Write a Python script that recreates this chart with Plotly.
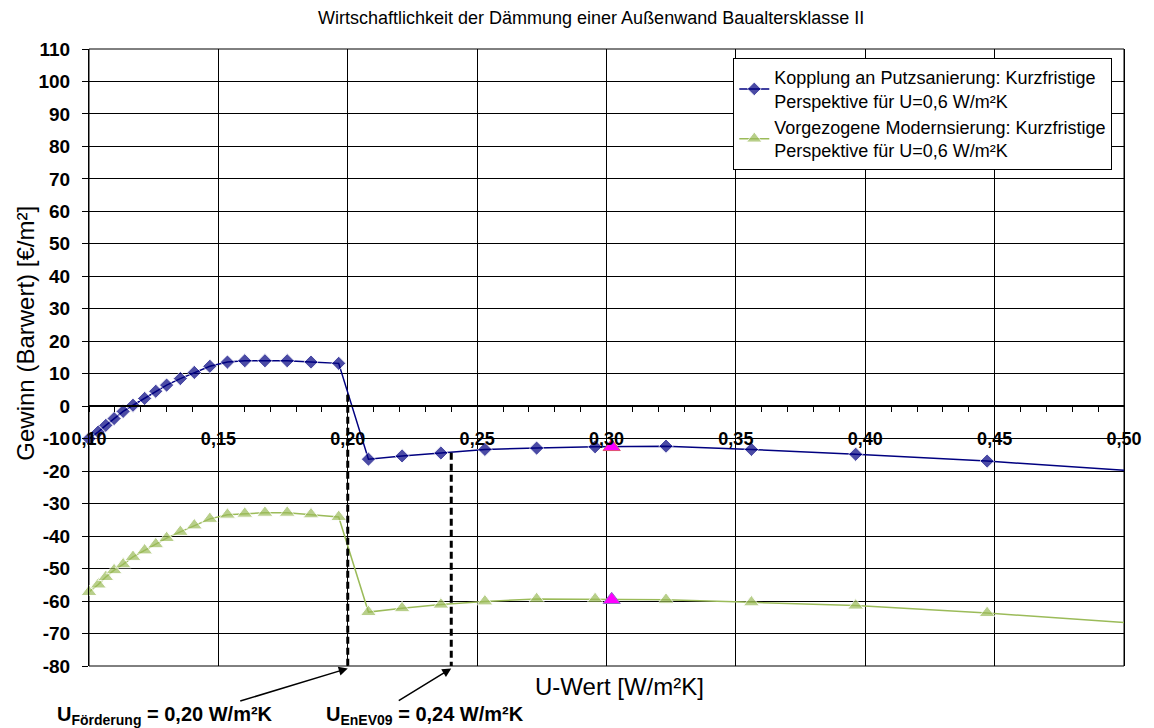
import plotly.graph_objects as go

# U-Werte der Dämmvarianten [W/m²K]
u_wert = [0.1000, 0.1036, 0.1065, 0.1097, 0.1132, 0.1170, 0.1215, 0.1258, 0.1300, 0.1353,
          0.1407, 0.1467, 0.1535, 0.1602, 0.1680, 0.1766, 0.1858, 0.1965, 0.2080, 0.2210,
          0.2360, 0.2530, 0.2730, 0.2956, 0.3230, 0.3560, 0.3963, 0.4471, 0.5000]

# Gewinn (Barwert) [€/m²]
kopplung = [-10.0, -7.9, -5.9, -3.8, -1.6, 0.3, 2.4, 4.6, 6.5, 8.5,
            10.4, 12.3, 13.6, 14.0, 14.0, 14.0, 13.6, 13.2, -16.3, -15.3,
            -14.4, -13.3, -12.9, -12.5, -12.3, -13.3, -14.8, -16.9, -19.7]
vorgezogen = [-57.2, -54.9, -52.6, -50.5, -48.7, -46.4, -44.4, -42.5, -40.6, -38.7,
              -36.7, -34.7, -33.4, -33.1, -32.8, -32.8, -33.3, -34.1, -63.4, -62.2,
              -61.1, -60.1, -59.4, -59.4, -59.6, -60.4, -61.4, -63.7, -66.6]

# hervorgehobener Punkt
u_akt = 0.302
kopplung_akt = -12.5
vorgezogen_akt = -59.6

# Grenzwerte
u_foerderung = 0.20
u_enev09 = 0.24
foerderung_oben = 3.5
enev09_oben = -14.3

name_kopplung = "Kopplung an Putzsanierung: Kurzfristige<br>Perspektive für U=0,6 W/m²K"
name_vorgezogen = "Vorgezogene Modernsierung: Kurzfristige<br>Perspektive für U=0,6 W/m²K"

x_ticks = [0.10, 0.15, 0.20, 0.25, 0.30, 0.35, 0.40, 0.45, 0.50]
y_ticks = [110, 100, 90, 80, 70, 60, 50, 40, 30, 20, 10, 0, -10, -20, -30, -40, -50, -60, -70, -80]

FONT = "Liberation Sans, Arial, sans-serif"
Y_MIN, Y_MAX = -80, 110

fig = go.Figure()

# am rechten Rand (U=0,50) endet die Linie ohne Marker
sizes_k = [11] * (len(u_wert) - 1) + [0]
sizes_v = [14] * (len(u_wert) - 1) + [0]

fig.add_trace(go.Scatter(
    x=u_wert, y=kopplung, mode="lines+markers", name=name_kopplung,
    line=dict(color="#000080", width=1.5),
    marker=dict(symbol="diamond", size=sizes_k, color="#000080"),
    cliponaxis=False,
))
fig.add_trace(go.Scatter(
    x=u_wert, y=vorgezogen, mode="lines+markers", name=name_vorgezogen,
    line=dict(color="#9BBB59", width=1.5),
    marker=dict(symbol="triangle-up", size=sizes_v, color="#9BBB59"),
    cliponaxis=False,
))
fig.add_trace(go.Scatter(
    x=[u_akt], y=[kopplung_akt], mode="markers", showlegend=False,
    marker=dict(symbol="triangle-up", size=15, color="#FF00FF",
                line=dict(color="#E05070", width=1)),
))
fig.add_trace(go.Scatter(
    x=[u_akt], y=[vorgezogen_akt], mode="markers", showlegend=False,
    marker=dict(symbol="triangle-up", size=15, color="#FF00FF",
                line=dict(color="#9070C0", width=1)),
))

# gestrichelte Markierungen der Grenzwerte
for ux, top in [(u_foerderung, foerderung_oben), (u_enev09, enev09_oben)]:
    fig.add_shape(type="line", xref="x", yref="y", x0=ux, x1=ux, y0=top, y1=Y_MIN,
                  line=dict(color="black", width=3, dash="7px,4px"), layer="above")

# Beschriftung der Grenzwerte mit Pfeilen
fig.add_annotation(x=u_foerderung, xref="x", y=-0.004, yref="paper",
                   ax=-109, ay=33, showarrow=True, arrowhead=2, arrowsize=1.2,
                   arrowwidth=1.5, arrowcolor="black", text="")
fig.add_annotation(x=u_enev09, xref="x", y=-0.004, yref="paper",
                   ax=-54, ay=33, showarrow=True, arrowhead=2, arrowsize=1.2,
                   arrowwidth=1.5, arrowcolor="black", text="")
fig.add_annotation(x=-0.0327, xref="paper", y=-0.08, yref="paper",
                   xanchor="left", yanchor="middle", showarrow=False,
                   text="<b>U<sub><span style='font-size:14px'>Förderung</span></sub> = 0,20 W/m²K</b>",
                   font=dict(family=FONT, size=20, color="black"))
fig.add_annotation(x=0.2267, xref="paper", y=-0.08, yref="paper",
                   xanchor="left", yanchor="middle", showarrow=False,
                   text="<b>U<sub><span style='font-size:14px'>EnEV09</span></sub> = 0,24 W/m²K</b>",
                   font=dict(family=FONT, size=20, color="black"))

# Achsentitel und Diagrammtitel
fig.add_annotation(x=-0.076, xref="paper", y=0.54, yref="paper", textangle=-90,
                   showarrow=False, text="Gewinn (Barwert) [€/m²]",
                   font=dict(family=FONT, size=24, color="black"))
fig.add_annotation(x=0.513, xref="paper", y=-0.058, yref="paper",
                   showarrow=False, text="U-Wert [W/m²K]",
                   font=dict(family=FONT, size=24, color="black"))
fig.add_annotation(x=0.485, xref="paper", y=1.05, yref="paper",
                   showarrow=False, yanchor="middle",
                   text="Wirtschaftlichkeit der Dämmung einer Außenwand Baualtersklasse II",
                   font=dict(family=FONT, size=18, color="black"))

fig.update_layout(
    width=1154, height=728,
    margin=dict(l=89, r=24, t=49, b=62),
    paper_bgcolor="white", plot_bgcolor="white",
    separators=",.",
    font=dict(family=FONT, color="black"),
    showlegend=True,
    legend=dict(x=0.6225, y=0.9854, xanchor="left", yanchor="top",
                bgcolor="white", bordercolor="black", borderwidth=1,
                font=dict(family=FONT, size=18, color="black"),
                tracegroupgap=0),
    xaxis=dict(
        range=[0.10, 0.50], tickvals=x_ticks, tickformat=".2f",
        anchor="free", position=(0 - Y_MIN) / (Y_MAX - Y_MIN),
        showgrid=True, gridcolor="black", gridwidth=1,
        showline=True, linecolor="black", linewidth=2,
        ticks="outside", ticklen=5, tickcolor="black",
        minor=dict(dtick=0.01, tick0=0.10, ticks="outside", ticklen=5,
                   tickcolor="black", showgrid=False),
        tickfont=dict(family=FONT, size=18, color="black", weight="bold"),
        ticklabelstandoff=11,
        zeroline=False,
    ),
    yaxis=dict(
        range=[Y_MIN, Y_MAX], tickvals=y_ticks, ticktext=[str(v) for v in y_ticks],
        showgrid=True, gridcolor="black", gridwidth=1,
        showline=True, linecolor="black", linewidth=1, mirror=True,
        ticks="outside", ticklen=6, tickcolor="black",
        tickfont=dict(family=FONT, size=19, color="black", weight="bold"),
        ticklabelstandoff=8,
        zeroline=True, zerolinecolor="black", zerolinewidth=2,
    ),
)

fig.add_shape(type="rect", xref="paper", yref="paper", x0=0, x1=1, y0=0, y1=1,
              line=dict(color="black", width=1), layer="below")

fig.write_html("out.html")
